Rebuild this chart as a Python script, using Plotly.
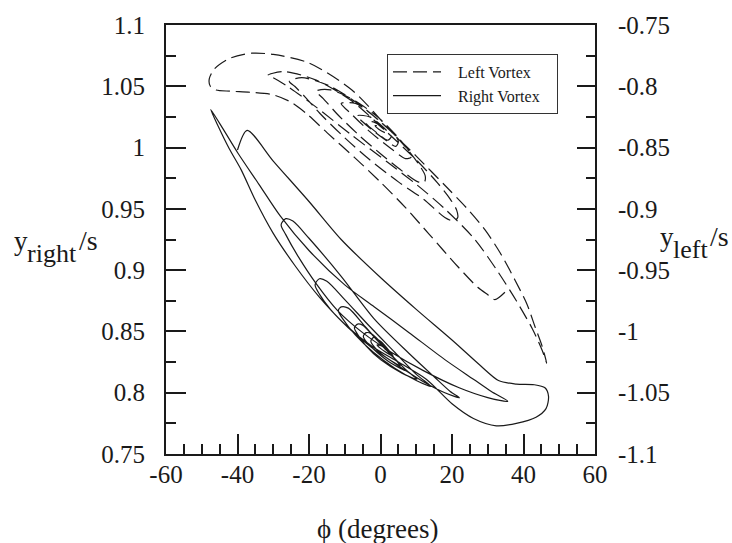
import plotly.graph_objects as go

# ---------------- data ----------------
# Right vortex (solid), phi in degrees, y_right/s
right_phi = [-40.0, -37.3, -30.0, -20.0, -11.0, 0.0, 10.0, 20.0, 28.0, 33.0, 38.0, 43.0, 46.0, 47.0,
             46.3, 43.5, 38.0, 32.4, 26.0, 20.0, 12.8, 5.0, -2.2, -10.0, -17.1, -24.0, -30.0, -35.0,
             -39.0, -42.3, -45.5, -47.5,
             -44.0, -40.0, -34.0, -28.0, -20.0, -10.0, -1.7, 8.0, 18.0, 26.0, 31.0, 35.6,
             30.0, 22.0, 12.0, 3.0, -5.0, -12.0, -18.0, -23.0, -26.5, -27.8, -26.5, -24.5,
             -20.0, -11.0, -1.7, 8.0, 15.0, 19.5, 22.1,
             18.0, 12.0, 5.0, -3.0, -9.0, -14.0, -17.0, -18.3, -17.1, -15.0,
             -10.0, -3.0, 4.0, 10.0, 14.2,
             10.0, 4.0, -2.0, -7.0, -10.5, -11.8, -11.0, -9.0,
             -4.0, 2.0, 7.0, 10.2,
             6.0, 0.0, -4.0, -6.5, -7.3, -6.4, -5.0,
             -1.0, 3.5, 7.2,
             3.0, -1.0, -3.8, -4.8, -4.0, -2.5, 1.0, 4.5, 5.5,
             2.0, -1.0, -2.7, -2.0, 0.0, 2.5, 3.5, 1.0, -1.0, 0.5, 1.5]
right_y = [0.998, 1.014, 0.989, 0.956, 0.925, 0.894, 0.868, 0.843, 0.822, 0.810, 0.807, 0.8065, 0.804, 0.797,
           0.787, 0.780, 0.775, 0.773, 0.779, 0.791, 0.811, 0.825, 0.8375, 0.856, 0.878, 0.904, 0.930, 0.957,
           0.982, 0.999, 1.018, 1.031,
           1.015, 0.996, 0.970, 0.944, 0.916, 0.888, 0.870, 0.849, 0.827, 0.811, 0.801, 0.793,
           0.796, 0.804, 0.818, 0.833, 0.849, 0.867, 0.889, 0.911, 0.929, 0.937, 0.942, 0.940,
           0.926, 0.895, 0.860, 0.832, 0.813, 0.801, 0.796,
           0.800, 0.809, 0.822, 0.838, 0.853, 0.868, 0.880, 0.888, 0.893, 0.891,
           0.876, 0.854, 0.833, 0.815, 0.805,
           0.810, 0.820, 0.833, 0.847, 0.860, 0.867, 0.870, 0.869,
           0.853, 0.834, 0.819, 0.811,
           0.816, 0.827, 0.838, 0.848, 0.853, 0.856, 0.855,
           0.843, 0.829, 0.818,
           0.824, 0.833, 0.841, 0.846, 0.849, 0.848, 0.838, 0.826, 0.822,
           0.828, 0.835, 0.842, 0.845, 0.842, 0.834, 0.830, 0.834, 0.839, 0.838, 0.835]

# Left vortex (dashed), phi in degrees, y_left/s (right-hand axis)
left_phi = [34.8, 32.0, 30.0, 27.2, 21.6, 13.7, 7.0, 0.3, -7.3, -14.9, -20.4, -25.0, -30.0, -36.0,
            -42.0, -46.0, -47.6, -47.9, -46.5, -42.0, -36.0, -30.0, -20.0, -8.0, 3.4, 10.0, 18.4,
            24.0, 29.2, 33.5, 37.6, 41.0, 43.2, 45.2, 46.5,
            45.3, 42.5, 38.0, 33.0, 26.4, 18.0, 10.0, 2.0, -8.0, -18.0, -26.0, -30.0, -31.5,
            -27.0, -18.0, -8.0, 2.0, 10.0, 16.0, 19.5, 21.3, 21.6, 20.5, 18.0,
            12.0, 5.0, -3.0, -10.0, -17.0, -21.0, -24.0, -25.5,
            -22.0, -14.0, -5.0, 3.0, 8.0, 11.0, 12.5, 12.3, 10.5,
            6.0, 0.0, -6.0, -12.0, -16.0, -18.0,
            -14.0, -7.0, 0.0, 5.0, 8.0, 8.5, 7.0,
            3.0, -3.0, -8.0, -11.0,
            -7.0, -2.0, 3.0, 5.0, 4.3, 1.5, -3.0, -6.5,
            -3.0, 1.0, 3.0, 2.0, -1.0, -4.0, -2.0, 0.5, 1.5, -0.5, -1.5, 0.0]
left_y = [-0.968, -0.974, -0.970, -0.964, -0.947, -0.921, -0.899, -0.879, -0.858, -0.838, -0.823, -0.813, -0.807, -0.805,
          -0.804, -0.803, -0.800, -0.794, -0.786, -0.777, -0.773, -0.774, -0.781, -0.803, -0.838, -0.857, -0.882,
          -0.899, -0.917, -0.936, -0.958, -0.978, -0.996, -1.012, -1.026,
          -1.016, -0.998, -0.975, -0.952, -0.925, -0.900, -0.880, -0.862, -0.840, -0.817, -0.800, -0.793, -0.791,
          -0.788, -0.795, -0.812, -0.838, -0.860, -0.879, -0.892, -0.901, -0.907, -0.910, -0.907,
          -0.892, -0.878, -0.860, -0.842, -0.822, -0.809, -0.800, -0.796,
          -0.793, -0.800, -0.817, -0.837, -0.853, -0.865, -0.873, -0.878, -0.878,
          -0.869, -0.855, -0.840, -0.823, -0.810, -0.804,
          -0.803, -0.812, -0.827, -0.842, -0.853, -0.858, -0.859,
          -0.851, -0.837, -0.823, -0.814,
          -0.814, -0.824, -0.837, -0.845, -0.849, -0.844, -0.834, -0.824,
          -0.825, -0.834, -0.841, -0.844, -0.838, -0.830, -0.829, -0.834, -0.838, -0.835, -0.832, -0.833]

# axis ticks / labels
x_ticks = [-60, -40, -20, 0, 20, 40, 60]
x_labels = ["-60", "-40", "-20", "0", "20", "40", "60"]
yr_ticks = [0.75, 0.8, 0.85, 0.9, 0.95, 1.0, 1.05, 1.1]
yr_labels = ["0.75", "0.8", "0.85", "0.9", "0.95", "1", "1.05", "1.1"]
yl_ticks = [-1.1, -1.05, -1.0, -0.95, -0.9, -0.85, -0.8, -0.75]
yl_labels = ["-1.1", "-1.05", "-1", "-0.95", "-0.9", "-0.85", "-0.8", "-0.75"]

SERIF = "Liberation Serif, Times New Roman, serif"
INK = "#1a1a1a"
NB = "\u00a0"

fig = go.Figure()
fig.add_trace(go.Scatter(x=left_phi, y=left_y, yaxis="y2", mode="lines", name=NB * 3 + "Left Vortex" + NB * 3,
                         line=dict(color=INK, width=1.2, dash="14px,6px", shape="spline", smoothing=0.8)))
fig.add_trace(go.Scatter(x=right_phi, y=right_y, mode="lines", name=NB * 3 + "Right Vortex" + NB * 3,
                         line=dict(color=INK, width=1.2, shape="spline", smoothing=0.8)))

axis_common = dict(showgrid=False, zeroline=False, showline=True, linecolor=INK, linewidth=2,
                   ticks="inside", tickcolor=INK, tickwidth=2, tickmode="array",
                   tickfont=dict(family=SERIF, size=25, color=INK))

fig.update_xaxes(range=[-60, 60], tickvals=x_ticks, ticktext=x_labels, ticklen=20, mirror=True,
                 ticklabelstandoff=-3,
                 minor=dict(tickmode="linear", tick0=-60, dtick=5, ticklen=10, ticks="inside",
                            tickcolor=INK, tickwidth=2),
                 **axis_common)
fig.update_layout(
    yaxis=dict(range=[0.75, 1.1], tickvals=yr_ticks, ticktext=yr_labels, ticklen=20,
               ticklabelstandoff=14,
               minor=dict(tickmode="linear", tick0=0.75, dtick=0.025, ticklen=10, ticks="inside",
                          tickcolor=INK, tickwidth=2),
               **axis_common),
    yaxis2=dict(range=[-1.1, -0.75], tickvals=yl_ticks, ticktext=yl_labels, ticklen=18,
                overlaying="y", side="right", ticklabelstandoff=16,
                minor=dict(tickmode="linear", tick0=-1.1, dtick=0.025, ticklen=9, ticks="inside",
                           tickcolor=INK, tickwidth=2),
                **axis_common),
)


def px_x(p):
    return (p - 166) / 429.0


def px_y(p):
    return (454 - p) / 429.0


annots = [
    dict(text="\u03d5 (degrees)", x=px_x(377), y=px_y(529), xanchor="center", yanchor="middle", size=27),
    dict(text="y", x=px_x(12), y=px_y(241), xanchor="left", yanchor="middle", size=27),
    dict(text="right", x=px_x(25), y=px_y(253), xanchor="left", yanchor="middle", size=26),
    dict(text="/s", x=px_x(77), y=px_y(240), xanchor="left", yanchor="middle", size=28),
    dict(text="y", x=px_x(658), y=px_y(237), xanchor="left", yanchor="middle", size=27),
    dict(text="left", x=px_x(671), y=px_y(249), xanchor="left", yanchor="middle", size=26),
    dict(text="/s", x=px_x(708), y=px_y(236), xanchor="left", yanchor="middle", size=28),
]
for a in annots:
    fig.add_annotation(text=a["text"], x=a["x"], y=a["y"], xref="paper", yref="paper",
                       xanchor=a["xanchor"], yanchor=a["yanchor"], showarrow=False,
                       font=dict(family=SERIF, size=a["size"], color=INK))

fig.update_layout(
    width=732, height=543,
    margin=dict(l=166, r=137, t=25, b=89),
    paper_bgcolor="white", plot_bgcolor="white",
    font=dict(family=SERIF, size=25, color=INK),
    showlegend=True,
    legend=dict(x=px_x(387), y=px_y(54), xanchor="left", yanchor="top",
                bordercolor="#333333", borderwidth=1, bgcolor="white",
                font=dict(family=SERIF, size=16, color=INK), itemwidth=48,
                tracegroupgap=0),
)

fig.write_html("out.html")
